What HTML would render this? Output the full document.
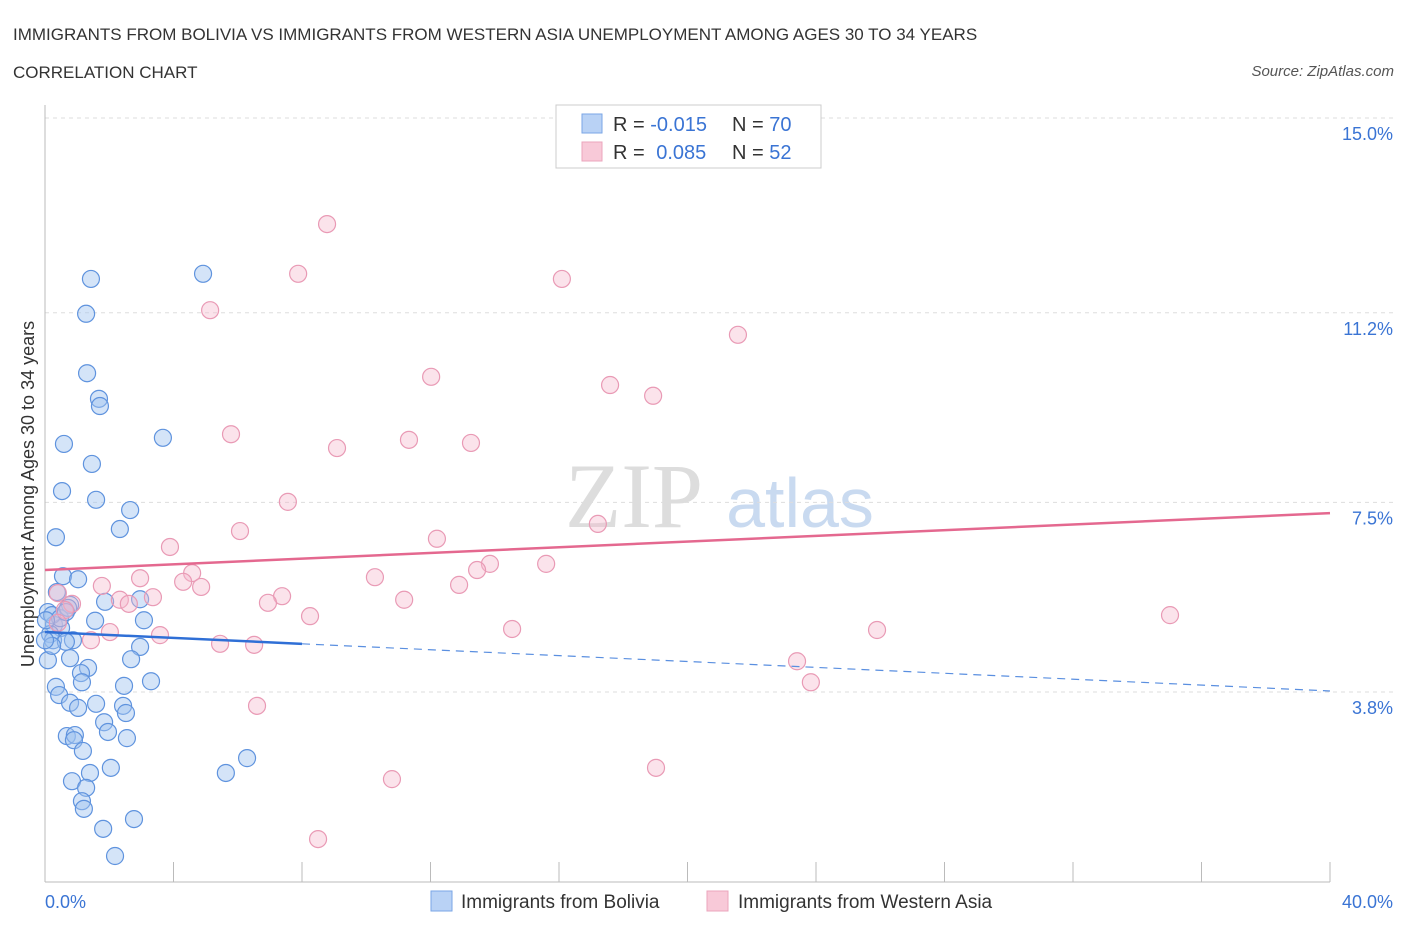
<!DOCTYPE html>
<html><head><meta charset="utf-8"><style>
body{margin:0;background:#fff;font-family:"Liberation Sans",sans-serif}
svg{display:block}
</style></head><body>
<svg id="chart" width="1406" height="930">
<text x="13" y="40" font-size="17" fill="#333">IMMIGRANTS FROM BOLIVIA VS IMMIGRANTS FROM WESTERN ASIA UNEMPLOYMENT AMONG AGES 30 TO 34 YEARS</text>
<text x="13" y="78" font-size="17" fill="#333">CORRELATION CHART</text>
<text x="1394" y="76" font-size="15" fill="#555" font-style="italic" text-anchor="end">Source: ZipAtlas.com</text>
<g>
<text x="634" y="527" font-size="92" fill="#ddd" font-family="Liberation Serif,serif" text-anchor="middle">ZIP</text>
<text x="800" y="527" font-size="70" fill="#c9daf0" text-anchor="middle">atlas</text>
</g>
<g id="grid"></g>
<g id="axes"></g>
<g id="marks"></g>
<g>
<rect x="556" y="105" width="265" height="63" fill="#fff" stroke="#ccc"/>
<rect x="582" y="114" width="20" height="19" fill="#b9d2f5" stroke="#7aa6e6"/>
<rect x="582" y="142" width="20" height="19" fill="#f8c9d8" stroke="#eba5bc"/>
<text x="613" y="131" font-size="20" fill="#333">R = <tspan fill="#3a74d4">-0.015</tspan></text>
<text x="732" y="131" font-size="20" fill="#333">N = <tspan fill="#3a74d4">70</tspan></text>
<text x="613" y="159" font-size="20" fill="#333">R = <tspan fill="#3a74d4" dx="6">0.085</tspan></text>
<text x="732" y="159" font-size="20" fill="#333">N = <tspan fill="#3a74d4">52</tspan></text>
</g>
<g>
<rect x="431" y="891" width="21" height="20" fill="#b9d2f5" stroke="#7aa6e6"/>
<text x="461" y="908" font-size="19" fill="#333">Immigrants from Bolivia</text>
<rect x="707" y="891" width="21" height="20" fill="#f8c9d8" stroke="#eba5bc"/>
<text x="738" y="908" font-size="19" fill="#333">Immigrants from Western Asia</text>
</g>
<text transform="translate(34,494) rotate(-90)" font-size="18" fill="#333" text-anchor="middle">Unemployment Among Ages 30 to 34 years</text>
</svg>
<script>
const yTicks=[15.0,11.2,7.5,3.8];
const yTickLabels=["15.0%","11.2%","7.5%","3.8%"];
const xEndLabels=["0.0%","40.0%"];
const boliviaX=[1.43,4.92,1.28,1.31,1.68,1.71,0.59,3.67,1.46,0.53,1.59,2.65,2.33,0.34,0.56,1.03,0.37,0.78,1.87,2.96,0.09,1.56,3.08,0.28,0.50,0.16,0.87,0.25,0.65,2.96,1.34,0.78,2.68,1.12,1.15,3.30,0.34,2.46,0.44,0.78,1.59,1.03,2.43,2.52,1.84,1.96,0.68,0.93,0.90,2.55,1.18,1.40,2.05,0.84,1.28,5.63,6.29,1.15,1.21,1.81,2.77,2.18,0.22,0.09,0.47,0.72,0.22,0.03,0.00,0.65];
const boliviaY=[11.86,11.96,11.18,10.02,9.52,9.38,8.64,8.76,8.25,7.72,7.55,7.35,6.98,6.82,6.06,6.00,5.75,5.50,5.56,5.61,5.36,5.19,5.20,5.11,5.05,4.93,4.81,4.81,4.78,4.68,4.27,4.46,4.44,4.17,3.99,4.01,3.90,3.92,3.74,3.59,3.57,3.49,3.53,3.39,3.21,3.02,2.94,2.96,2.86,2.90,2.65,2.22,2.32,2.06,1.93,2.22,2.51,1.67,1.52,1.13,1.32,0.60,5.30,4.42,5.24,5.44,4.70,5.20,4.81,5.36];
const asiaX=[8.78,7.88,16.09,5.14,21.57,12.02,17.59,18.93,5.79,11.33,13.26,9.09,7.56,17.21,6.07,12.20,3.89,15.60,13.85,13.45,2.96,10.27,4.58,4.30,4.86,1.77,0.40,12.89,7.38,3.36,2.33,2.61,6.94,11.18,0.84,8.25,35.02,0.62,0.40,14.54,25.90,3.58,2.02,1.43,5.45,6.51,23.41,23.84,6.60,19.02,10.80,8.50];
const asiaY=[12.93,11.96,11.86,11.25,10.77,9.95,9.79,9.58,8.83,8.72,8.66,8.56,7.51,7.08,6.94,6.79,6.63,6.30,6.30,6.18,6.02,6.04,6.12,5.95,5.85,5.87,5.73,5.89,5.67,5.65,5.60,5.52,5.54,5.60,5.52,5.28,5.30,5.40,5.15,5.03,5.01,4.91,4.97,4.81,4.74,4.72,4.40,3.99,3.53,2.32,2.10,0.93];
const boliviaTrend=[4.97,3.82];
const asiaTrend=[6.18,7.29];
const boliviaSolidEnd=8;

const X0=45,X1=1330,Y15=118,PPU=51.25;
const sx=v=>X0+(X1-X0)*v/40;
const sy=v=>Y15+(15-v)*PPU;
const NS="http://www.w3.org/2000/svg";
function mk(tag,attrs,parent){const e=document.createElementNS(NS,tag);for(const k in attrs)e.setAttribute(k,attrs[k]);parent.appendChild(e);return e;}
const grid=document.getElementById('grid'),axes=document.getElementById('axes'),marks=document.getElementById('marks');
yTicks.forEach((t,i)=>{
 const l=mk('line',{x1:X0,x2:1395,y1:sy(t),y2:sy(t),stroke:'#ddd','stroke-dasharray':'4,4'},grid);
 
 
 const tx=mk('text',{x:1393,y:sy(t)+22,'font-size':18,fill:'#3a74d4','text-anchor':'end'},grid);
 tx.textContent=yTickLabels[i];
 
 
});
const ya=mk('line',{x1:X0,x2:X0,y1:105,y2:882,stroke:'#bbb'},axes);


const xa=mk('line',{x1:X0,x2:X1,y1:882,y2:882,stroke:'#bbb'},axes);


for(let v=4;v<=40;v+=4){
 const tk=mk('line',{x1:sx(v),x2:sx(v),y1:862,y2:882,stroke:'#bbb'},axes);
 
 
}
[[0,'start',X0],[40,'end',1393]].forEach((d,i)=>{
 const t=mk('text',{x:d[2],y:908,'font-size':18,fill:'#3a74d4','text-anchor':d[1]},axes);
 t.textContent=xEndLabels[i];
 
 
});
boliviaX.forEach((x,i)=>{
 const c=mk('circle',{cx:sx(x),cy:sy(boliviaY[i]),r:8.5,fill:'rgba(160,195,240,0.45)',stroke:'#5f93de','stroke-width':1.2},marks);
 
 
});
asiaX.forEach((x,i)=>{
 const c=mk('circle',{cx:sx(x),cy:sy(asiaY[i]),r:8.5,fill:'rgba(246,185,205,0.4)',stroke:'#e99ab5','stroke-width':1.2},marks);
 
 
});
const bAt=x=>boliviaTrend[0]+(boliviaTrend[1]-boliviaTrend[0])*x/40;
const tl1=mk('line',{x1:sx(0),y1:sy(asiaTrend[0]),x2:sx(40),y2:sy(asiaTrend[1]),stroke:'#e4688f','stroke-width':2.5},marks);


const tl2=mk('line',{x1:sx(0),y1:sy(bAt(0)),x2:sx(boliviaSolidEnd),y2:sy(bAt(boliviaSolidEnd)),stroke:'#2f6fd6','stroke-width':2.5},marks);


const tl3=mk('line',{x1:sx(boliviaSolidEnd),y1:sy(bAt(boliviaSolidEnd)),x2:sx(40),y2:sy(bAt(40)),stroke:'#5a8fe0','stroke-width':1.2,'stroke-dasharray':'8,6'},marks);


</script>
</body></html>
